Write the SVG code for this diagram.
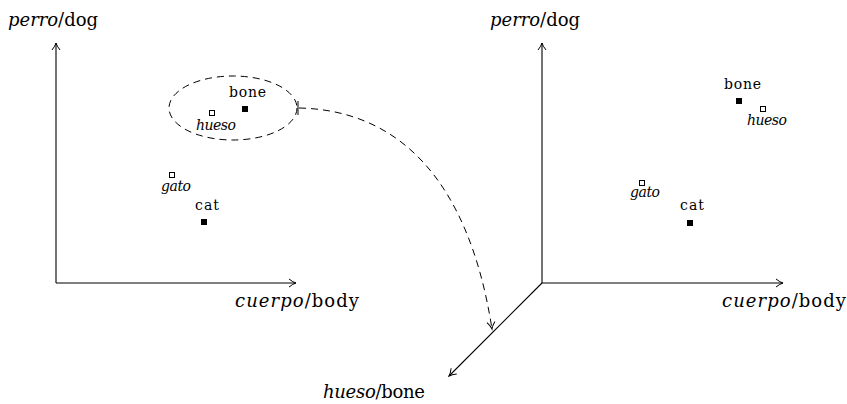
<svg xmlns="http://www.w3.org/2000/svg" width="847" height="404" viewBox="0 0 847 404">
  <style>
    .axis { stroke: #000; stroke-width: 1.1; fill: none; }
    .lbl { font-family: "DejaVu Serif", "Liberation Serif", serif; font-size: 18px; fill: #000; }
    .pt { font-family: "DejaVu Serif", "Liberation Serif", serif; font-size: 14px; fill: #000; }
    .es { font-style: italic; }
    .full { fill: #000; stroke: none; }
    .open { fill: #fff; stroke: #000; stroke-width: 1; }
    .dash { stroke: #000; stroke-width: 1; fill: none; stroke-dasharray: 7 5; }
  </style>
  <defs>
    <marker id="arr" viewBox="-8 -5 10 10" refX="0" refY="0" markerWidth="10" markerHeight="10" markerUnits="userSpaceOnUse" orient="auto">
      <path d="M -7 -4 Q -3 -0.8 0 0 Q -3 0.8 -7 4" fill="none" stroke="#000" stroke-width="1"/>
    </marker>
  </defs>

  <!-- left space: axes -->
  <g id="left-axes">
    <path class="axis" d="M 56 283 L 56 43" marker-end="url(#arr)"/>
    <path class="axis" d="M 56 283 L 296 283" marker-end="url(#arr)"/>
    <text class="lbl" x="8" y="26" textLength="90" lengthAdjust="spacing"><tspan class="es">perro</tspan>/dog</text>
    <text class="lbl" x="235" y="307" textLength="124" lengthAdjust="spacing"><tspan class="es">cuerpo</tspan>/body</text>
  </g>

  <!-- left space: words -->
  <g id="left-cluster">
    <ellipse class="dash" cx="233" cy="108" rx="64" ry="32"/>
    <line x1="298" y1="101" x2="298" y2="115" stroke="#000" stroke-width="1"/>
  </g>
  <g id="left-bone">
    <rect class="full" x="242" y="106" width="6" height="6"/>
    <text class="pt" x="229" y="97" textLength="37" lengthAdjust="spacing">bone</text>
  </g>
  <g id="left-hueso">
    <rect class="open" x="209.5" y="110.5" width="5" height="5"/>
    <text class="pt es" x="196" y="130" textLength="40" lengthAdjust="spacing">hueso</text>
  </g>
  <g id="left-gato">
    <rect class="open" x="169.5" y="172.5" width="5" height="5"/>
    <text class="pt es" x="161" y="191" textLength="30" lengthAdjust="spacing">gato</text>
  </g>
  <g id="left-cat">
    <rect class="full" x="201" y="219" width="6" height="6"/>
    <text class="pt" x="195" y="210" textLength="24" lengthAdjust="spacing">cat</text>
  </g>

  <!-- right space: axes -->
  <g id="right-axes">
    <path class="axis" d="M 542 283 L 542 43" marker-end="url(#arr)"/>
    <path class="axis" d="M 542 283 L 783 283" marker-end="url(#arr)"/>
    <path class="axis" d="M 542 283 L 449 376" marker-end="url(#arr)"/>
    <text class="lbl" x="490" y="26" textLength="90" lengthAdjust="spacing"><tspan class="es">perro</tspan>/dog</text>
    <text class="lbl" x="722" y="307" textLength="124" lengthAdjust="spacing"><tspan class="es">cuerpo</tspan>/body</text>
    <text class="lbl" x="323" y="398" textLength="102" lengthAdjust="spacing"><tspan class="es">hueso</tspan>/bone</text>
  </g>

  <!-- right space: words -->
  <g id="right-bone">
    <rect class="full" x="736" y="98" width="6" height="6"/>
    <text class="pt" x="724" y="89" textLength="37" lengthAdjust="spacing">bone</text>
  </g>
  <g id="right-hueso">
    <rect class="open" x="760.5" y="106.5" width="5" height="5"/>
    <text class="pt es" x="747" y="125" textLength="40" lengthAdjust="spacing">hueso</text>
  </g>
  <g id="right-gato">
    <rect class="open" x="639.5" y="180.5" width="5" height="5"/>
    <text class="pt es" x="630" y="197" textLength="30" lengthAdjust="spacing">gato</text>
  </g>
  <g id="right-cat">
    <rect class="full" x="687" y="220" width="6" height="6"/>
    <text class="pt" x="680" y="210" textLength="24" lengthAdjust="spacing">cat</text>
  </g>

  <!-- mapping connector -->
  <g id="connectors">
    <path class="dash" d="M 299 108 C 395 110 468 175 492 329" marker-end="url(#arr)"/>
  </g>
</svg>
